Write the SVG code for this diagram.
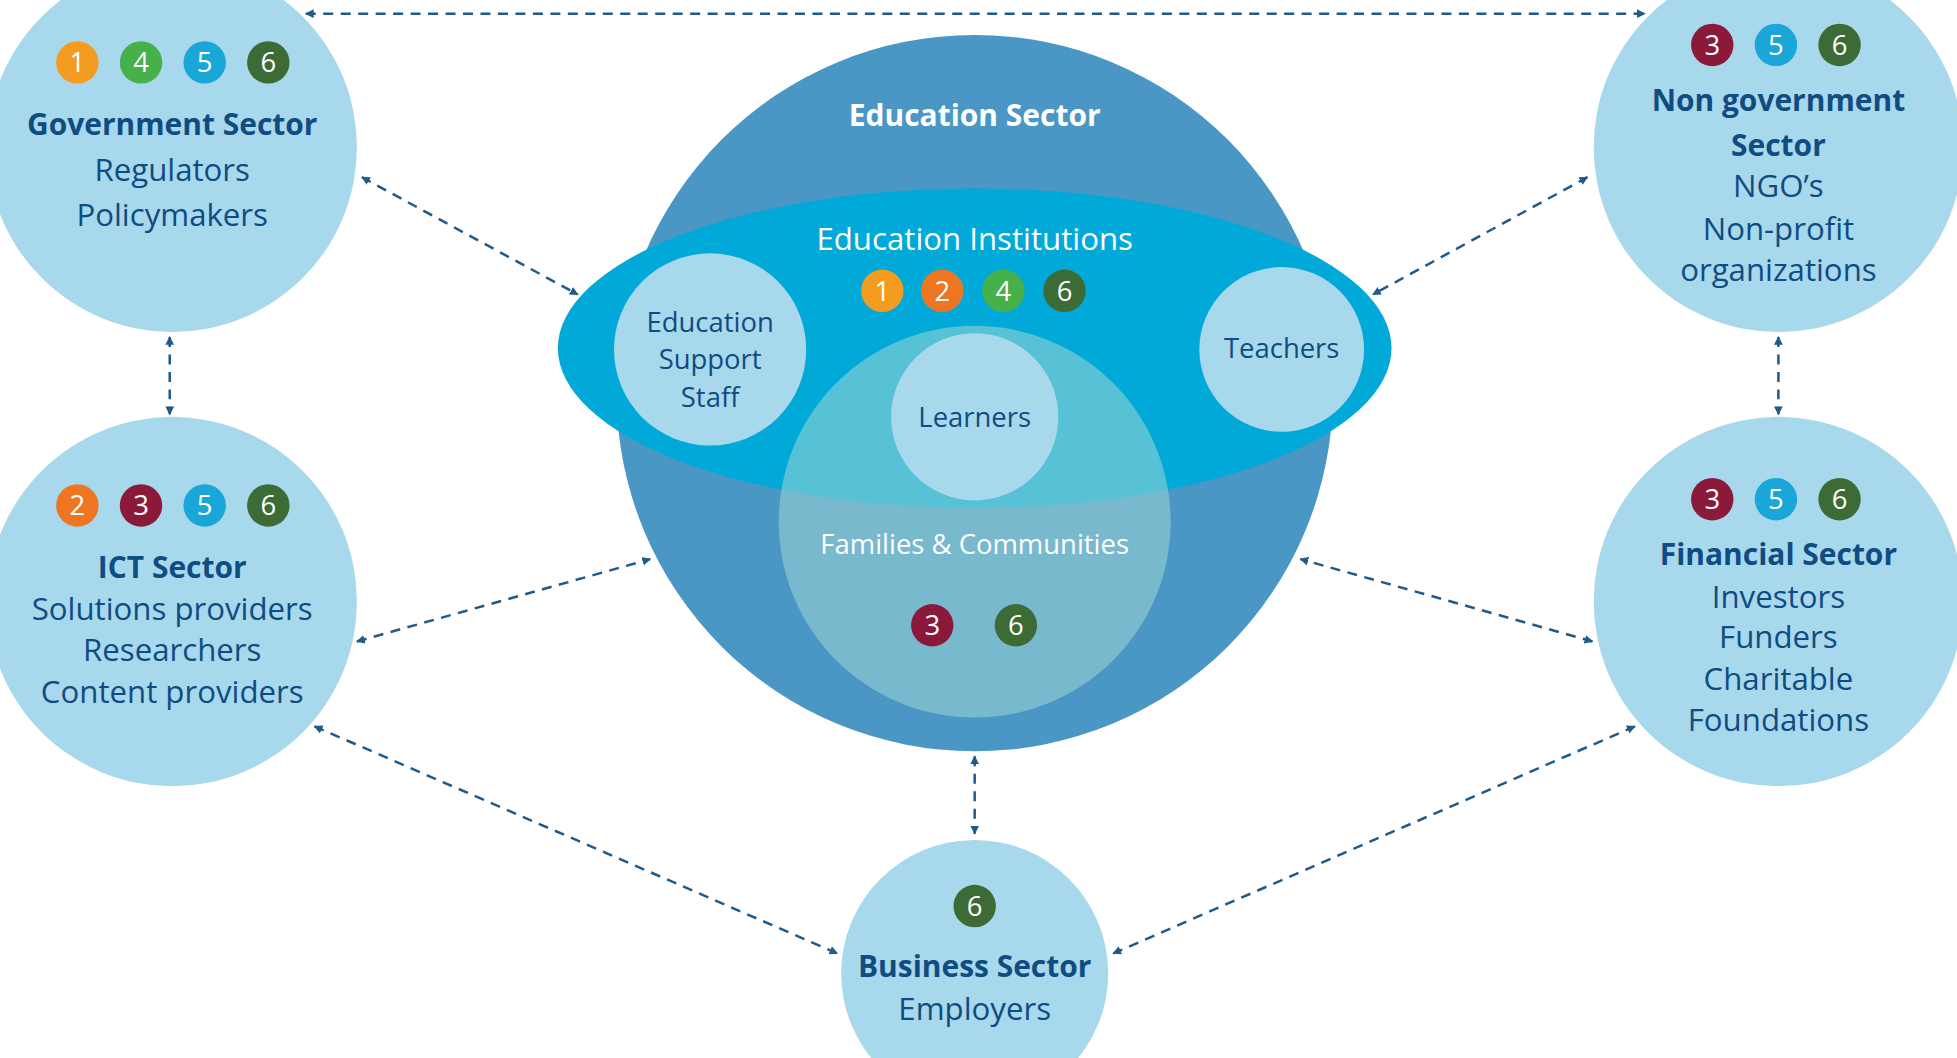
<svg xmlns="http://www.w3.org/2000/svg" width="1957" height="1058" viewBox="0 0 1957 1058">
<defs>
<style>
.n{fill:#a8d8ec}
.t{font-family:"Open Sans","Liberation Sans",sans-serif;font-size:25px;fill:#0f4c81;text-anchor:middle}
.b{font-weight:bold}
.w{fill:#fff}
.bt{font-family:"Open Sans","Liberation Sans",sans-serif;font-size:22px;fill:#fff;text-anchor:middle}
.c{stroke:#1f5a8a;stroke-width:2;stroke-dasharray:8 6;fill:none;marker-start:url(#a);marker-end:url(#a)}
</style>
<marker id="a" viewBox="0 0 10 10" refX="9" refY="5" markerWidth="7" markerHeight="7" orient="auto-start-reverse" markerUnits="userSpaceOnUse"><path d="M0,0L10,5L0,10z" fill="#1f5a8a"/></marker>
</defs>
<rect width="1957" height="1058" fill="#fff"/>
<g transform="scale(1.248)">
<g id="connectors">
<line class="c" x1="245" y1="11" x2="1318" y2="11"/>
<line class="c" x1="290" y1="142" x2="463" y2="236"/>
<line class="c" x1="136" y1="270" x2="136" y2="332"/>
<line class="c" x1="1272" y1="142" x2="1100" y2="236"/>
<line class="c" x1="1425" y1="270" x2="1425" y2="332"/>
<line class="c" x1="286" y1="514" x2="521" y2="448"/>
<line class="c" x1="1276" y1="514" x2="1042" y2="448"/>
<line class="c" x1="252" y1="582" x2="671" y2="764"/>
<line class="c" x1="1310" y1="582" x2="892" y2="764"/>
<line class="c" x1="781" y1="606" x2="781" y2="668"/>
</g>
<g id="education">
<circle cx="781" cy="315" r="287" fill="#4a97c5"/>
<text x="781" y="101" class="t b w" style="font-size:24px">Education Sector</text>
<ellipse cx="781" cy="279" rx="334" ry="128" fill="#00a9d8"/>
<text x="781" y="200" class="t w" style="font-size:25px">Education Institutions</text>
<circle cx="781" cy="418" r="157" fill="#9fd6d6" opacity="0.55"/>
<text x="781" y="444" class="t w" style="font-size:22px">Families &amp; Communities</text>
</g>
<g id="support"><circle class="n" cx="569" cy="280" r="77"/>
<text class="t" x="569" y="266" style="font-size:22px">Education</text><text class="t" x="569" y="296" style="font-size:22px">Support</text><text class="t" x="569" y="326" style="font-size:22px">Staff</text></g>
<g id="teachers"><circle class="n" cx="1027" cy="280" r="66"/><text class="t" x="1027" y="287" style="font-size:22px">Teachers</text></g>
<g id="learners"><circle class="n" cx="781" cy="334" r="67"/><text class="t" x="781" y="342" style="font-size:22px">Learners</text></g>
<g id="badges">
<circle cx="707" cy="233" r="17" fill="#f39c1f"/><text class="bt" x="707" y="241">1</text>
<circle cx="755" cy="233" r="17" fill="#ee7623"/><text class="bt" x="755" y="241">2</text>
<circle cx="804" cy="233" r="17" fill="#46b04a"/><text class="bt" x="804" y="241">4</text>
<circle cx="853" cy="233" r="17" fill="#3d6b35"/><text class="bt" x="853" y="241">6</text>
<circle cx="747" cy="501" r="17" fill="#8b1a3a"/><text class="bt" x="747" y="509">3</text>
<circle cx="814" cy="501" r="17" fill="#3d6b35"/><text class="bt" x="814" y="509">6</text>
</g>
<g id="government"><circle class="n" cx="138" cy="118" r="148"/>
<circle cx="62" cy="50" r="17" fill="#f39c1f"/><text class="bt" x="62" y="58">1</text>
<circle cx="113" cy="50" r="17" fill="#46b04a"/><text class="bt" x="113" y="58">4</text>
<circle cx="164" cy="50" r="17" fill="#1aa6d9"/><text class="bt" x="164" y="58">5</text>
<circle cx="215" cy="50" r="17" fill="#3d6b35"/><text class="bt" x="215" y="58">6</text>
<text class="t b" x="138" y="108" style="font-size:24px">Government Sector</text>
<text class="t" x="138" y="145">Regulators</text><text class="t" x="138" y="181">Policymakers</text></g>
<g id="ict"><circle class="n" cx="138" cy="482" r="148"/>
<circle cx="62" cy="405" r="17" fill="#ee7623"/><text class="bt" x="62" y="413">2</text>
<circle cx="113" cy="405" r="17" fill="#8b1a3a"/><text class="bt" x="113" y="413">3</text>
<circle cx="164" cy="405" r="17" fill="#1aa6d9"/><text class="bt" x="164" y="413">5</text>
<circle cx="215" cy="405" r="17" fill="#3d6b35"/><text class="bt" x="215" y="413">6</text>
<text class="t b" x="138" y="463" style="font-size:24px">ICT Sector</text>
<text class="t" x="138" y="497">Solutions providers</text><text class="t" x="138" y="530">Researchers</text><text class="t" x="138" y="563">Content providers</text></g>
<g id="nongov"><circle class="n" cx="1425" cy="118" r="148"/>
<circle cx="1372" cy="36" r="17" fill="#8b1a3a"/><text class="bt" x="1372" y="44">3</text>
<circle cx="1423" cy="36" r="17" fill="#1aa6d9"/><text class="bt" x="1423" y="44">5</text>
<circle cx="1474" cy="36" r="17" fill="#3d6b35"/><text class="bt" x="1474" y="44">6</text>
<text class="t b" x="1425" y="89" style="font-size:24px">Non government</text>
<text class="t b" x="1425" y="125" style="font-size:24px">Sector</text>
<text class="t" x="1425" y="158">NGO’s</text><text class="t" x="1425" y="192">Non-profit</text><text class="t" x="1425" y="225">organizations</text></g>
<g id="financial"><circle class="n" cx="1425" cy="482" r="148"/>
<circle cx="1372" cy="400" r="17" fill="#8b1a3a"/><text class="bt" x="1372" y="408">3</text>
<circle cx="1423" cy="400" r="17" fill="#1aa6d9"/><text class="bt" x="1423" y="408">5</text>
<circle cx="1474" cy="400" r="17" fill="#3d6b35"/><text class="bt" x="1474" y="408">6</text>
<text class="t b" x="1425" y="453" style="font-size:24px">Financial Sector</text>
<text class="t" x="1425" y="487">Investors</text><text class="t" x="1425" y="519">Funders</text><text class="t" x="1425" y="553">Charitable</text><text class="t" x="1425" y="586">Foundations</text></g>
<g id="business"><circle class="n" cx="781" cy="780" r="107"/>
<circle cx="781" cy="726" r="17" fill="#3d6b35"/><text class="bt" x="781" y="734">6</text>
<text class="t b" x="781" y="783" style="font-size:24px">Business Sector</text>
<text class="t" x="781" y="817">Employers</text></g>
</g>
</svg>
